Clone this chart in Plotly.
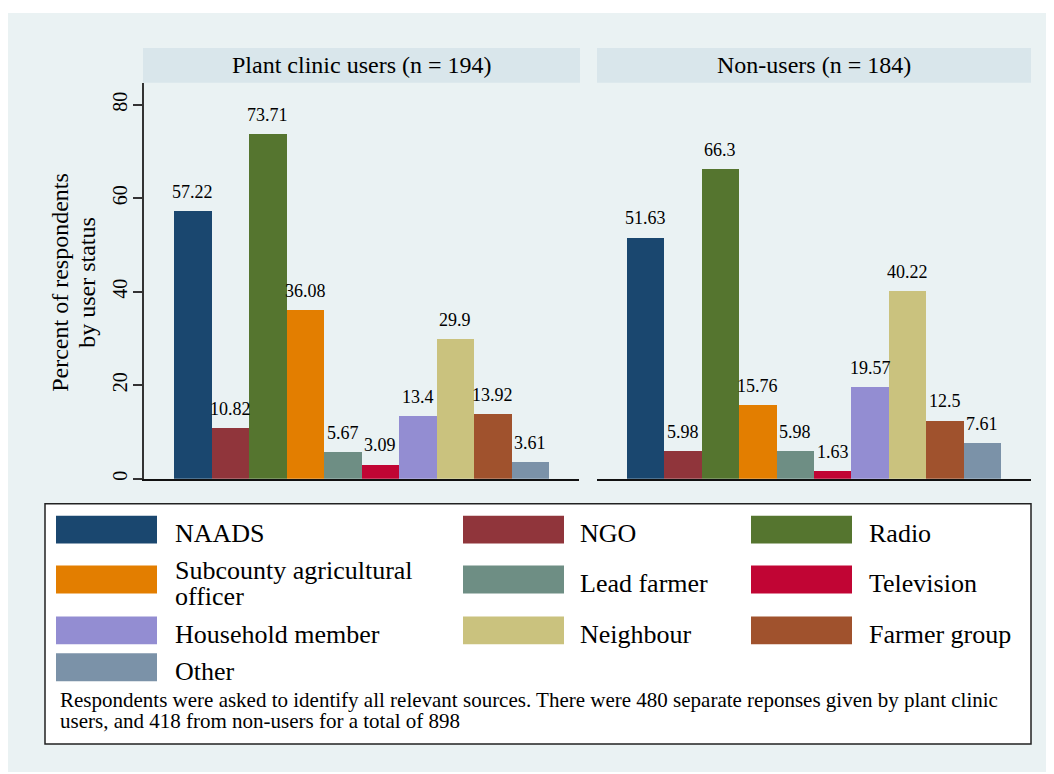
import plotly.graph_objects as go

# ---------------- data ----------------
categories = ["NAADS", "NGO", "Radio", "Subcounty agricultural officer", "Lead farmer",
              "Television", "Household member", "Neighbour", "Farmer group", "Other"]
users_values = [57.22, 10.82, 73.71, 36.08, 5.67, 3.09, 13.4, 29.9, 13.92, 3.61]
nonusers_values = [51.63, 5.98, 66.3, 15.76, 5.98, 1.63, 19.57, 40.22, 12.5, 7.61]
panel_titles = ["Plant clinic users (n = 194)", "Non-users (n = 184)"]
y_ticks = [0, 20, 40, 60, 80]
y_title_lines = ["Percent of respondents", "by user status"]
note_lines = ["Respondents were asked to identify all relevant sources. There were 480 separate reponses given by plant clinic",
              "users, and 418 from non-users for a total of 898"]
colors = ["#1a476f", "#90353b", "#55752f", "#e37e00", "#6e8e84",
          "#c10534", "#938dd2", "#cac27e", "#a0522d", "#7b92a8"]

# ---------------- layout helpers ----------------
OFF = 8  # page body margin
W, H = 1054 - OFF, 774 - OFF
FONT = "Liberation Serif, Times New Roman, Tinos, DejaVu Serif, serif"
def px(x):
    return (x - OFF) / W
def py(y):
    return 1 - (y - OFF) / H

BG = "#eaf2f3"
STRIP = "#d9e6eb"
AXIS = "#333333"

panels = [
    dict(values=users_values, x0=144, x1=579, sx0=143, sx1=580, xa="x", ya="y"),
    dict(values=nonusers_values, x0=597, x1=1031, sx0=597, sx1=1031, xa="x2", ya="y2"),
]
plot_top, plot_bottom = 83, 480
strip_top = 48

fig = go.Figure()
annotations = []
shapes = []

# background region
shapes.append(dict(type="rect", xref="paper", yref="paper", x0=px(8), x1=px(1054),
                   y0=py(774), y1=py(13), fillcolor=BG, line=dict(width=0), layer="below"))

for p_i, p in enumerate(panels):
    xs = list(range(len(categories)))
    fig.add_trace(go.Bar(x=xs, y=p["values"], marker=dict(color=colors, line=dict(width=0)),
                         width=1.0, xaxis=p["xa"], yaxis=p["ya"], showlegend=False,
                         hoverinfo="y"))
    for i, v in enumerate(p["values"]):
        annotations.append(dict(x=i, y=v, xref=p["xa"], yref=p["ya"], text=str(v),
                                showarrow=False, yanchor="bottom", yshift=7,
                                font=dict(family=FONT, size=18, color="black")))
    # strip
    shapes.append(dict(type="rect", xref="paper", yref="paper", x0=px(p["sx0"]), x1=px(p["sx1"]),
                       y0=py(plot_top), y1=py(strip_top), fillcolor=STRIP, line=dict(width=0),
                       layer="below"))
    annotations.append(dict(x=px((p["sx0"] + p["sx1"]) / 2), y=py((strip_top + plot_top) / 2),
                            xref="paper", yref="paper", text=panel_titles[p_i], showarrow=False,
                            xanchor="center", yanchor="middle",
                            font=dict(family=FONT, size=24, color="black")))

xrange = [-1.3, len(categories) - 1 + 1.3]
ydom = [py(plot_bottom), py(plot_top)]
yrange = [0, (plot_bottom - plot_top) / ((480 - 105) / 80)]

fig.update_layout(
    xaxis=dict(domain=[px(144), px(579)], range=xrange, showticklabels=False, ticks="",
               showgrid=False, zeroline=False, showline=True, linecolor="#111", linewidth=1.5,
               fixedrange=True),
    xaxis2=dict(domain=[px(597), px(1031)], range=xrange, showticklabels=False, ticks="",
                showgrid=False, zeroline=False, showline=True, linecolor="#111", linewidth=1.5,
                anchor="y2", fixedrange=True),
    yaxis=dict(domain=ydom, range=yrange, tickvals=y_ticks, ticktext=[str(t) for t in y_ticks],
               tickangle=-90, ticks="outside", ticklen=9, tickwidth=1.5, tickcolor=AXIS,
               showline=True, linecolor=AXIS, linewidth=2, showgrid=True, gridcolor=BG,
               gridwidth=1.5, zeroline=False, ticklabelstandoff=-2,
               tickfont=dict(family=FONT, size=20, color="black"), anchor="x"),
    yaxis2=dict(domain=ydom, range=yrange, tickvals=y_ticks, showticklabels=False, ticks="",
                showline=False, showgrid=True, gridcolor=BG, gridwidth=1.5, zeroline=False,
                anchor="x2"),
    font=dict(family=FONT),
    plot_bgcolor="white",
    paper_bgcolor="white",
    width=W, height=H,
    margin=dict(l=0, r=0, t=0, b=0),
    bargap=0,
    showlegend=False,
)

# y axis title (two lines)
title_x = [60, 87]
for line, xc in zip(y_title_lines, title_x):
    annotations.append(dict(x=px(xc), y=py((plot_top + plot_bottom) / 2 + 2), xref="paper", yref="paper",
                            text=line, textangle=-90, showarrow=False, xanchor="center",
                            yanchor="middle", font=dict(family=FONT, size=24, color="black")))

# legend box
shapes.append(dict(type="rect", xref="paper", yref="paper", x0=px(45), x1=px(1031),
                   y0=py(746), y1=py(505), fillcolor="white", line=dict(color="#222", width=1.5)))
col_swatch_x = [56, 463, 751]
swatch_w = 101
col_text_x = [173, 578, 867]
row_center_y = [531, 581, 632, 669]
swatch_h = 28
LEG_FONT = 26
LINE_SP = 26

def wrap(label, limit=22):
    if len(label) <= limit:
        return [label]
    cut = label.rfind(" ", 0, limit + 1)
    return [label[:cut], label[cut + 1:]]

for i, cat in enumerate(categories):
    r, c = divmod(i, 3)
    yc = row_center_y[r]
    shapes.append(dict(type="rect", xref="paper", yref="paper",
                       x0=px(col_swatch_x[c]), x1=px(col_swatch_x[c] + swatch_w),
                       y0=py(yc + swatch_h / 2), y1=py(yc - swatch_h / 2),
                       fillcolor=colors[i], line=dict(width=0)))
    lines = wrap(cat)
    n = len(lines)
    for k, ln in enumerate(lines):
        ty = yc + (k - (n - 1) / 2) * LINE_SP + 4
        annotations.append(dict(x=px(col_text_x[c]), y=py(ty), xref="paper", yref="paper",
                                text=ln, showarrow=False, xanchor="left", yanchor="middle",
                                font=dict(family=FONT, size=LEG_FONT, color="black")))

note_y = [702, 723]
for ln, yy in zip(note_lines, note_y):
    annotations.append(dict(x=px(58), y=py(yy), xref="paper", yref="paper", text=ln,
                            showarrow=False, xanchor="left", yanchor="middle",
                            font=dict(family=FONT, size=21, color="black")))

fig.update_layout(shapes=shapes, annotations=annotations)
fig.write_html("out.html")
